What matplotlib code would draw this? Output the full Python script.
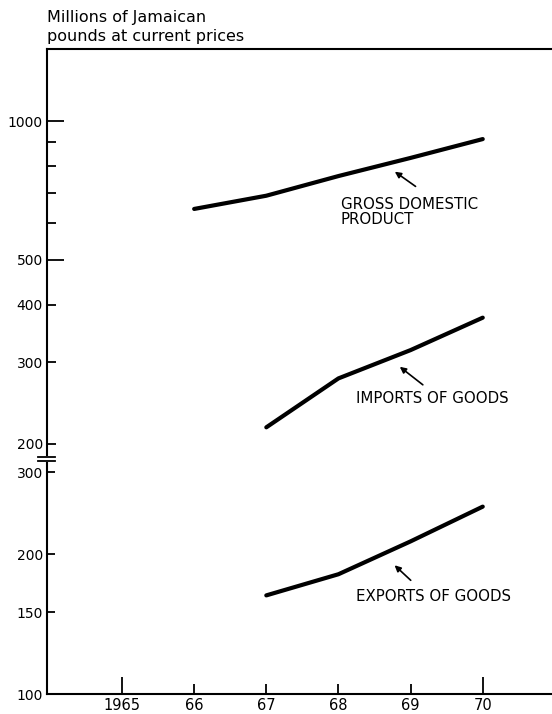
import matplotlib
matplotlib.use("Agg")
import matplotlib.pyplot as plt

# values (millions of Jamaican pounds)
years_gdp = [1966, 1967, 1968, 1969, 1970]
gdp = [645, 689, 760, 832, 914]
years_trade = [1967, 1968, 1969, 1970]
imports = [217, 277, 319, 375]
exports = [163, 181, 213, 253]

year_major = [1965, 1970]
year_major_labels = ["1965", "70"]
year_minor = [1966, 1967, 1968, 1969]
year_minor_labels = ["66", "67", "68", "69"]

plt.rcParams['font.family'] = ['DejaVu Sans']
fig = plt.figure(figsize=(5.52, 7.14), dpi=100)

ax_top = fig.add_axes([0.0851, 0.3627, 0.9149, 0.5686])
ax_bot = fig.add_axes([0.0851, 0.0280, 0.9149, 0.3235])

xlim = (1963.96, 1970.96)
for ax in (ax_top, ax_bot):
    ax.set_yscale('log')
    ax.set_xlim(*xlim)
    ax.spines['right'].set_visible(False)
    for s in ax.spines.values():
        s.set_linewidth(1.5)
    ax.tick_params(which='both', direction='in', width=1.3, labelsize=10, pad=3)

line_kw = dict(color='black', lw=3, solid_capstyle='round', solid_joinstyle='round')

# upper panel
ax_top.spines['bottom'].set_visible(False)
ax_top.set_ylim(189, 1432)
ax_top.set_yticks([500, 1000], labels=["500", "1000"])
ax_top.set_yticks([200, 300, 400, 600, 700, 800, 900], minor=True,
                  labels=["200", "300", "400", "", "", "", ""])
ax_top.tick_params(axis='y', which='major', length=12)
ax_top.tick_params(axis='y', which='minor', length=6.5)
ax_top.set_xticks([])
ax_top.set_xticks([], minor=True)
ax_top.plot(years_gdp, gdp, **line_kw)
ax_top.plot(years_trade, imports, **line_kw)

# lower panel
ax_bot.spines['top'].set_visible(False)
ax_bot.set_ylim(100, 314)
ax_bot.set_yticks([100, 150, 200, 300], labels=["100", "150", "200", "300"])
ax_bot.set_yticks([], minor=True)
ax_bot.tick_params(axis='y', which='major', length=5.5)
ax_bot.set_xticks(year_major, labels=year_major_labels)
ax_bot.set_xticks(year_minor, minor=True, labels=year_minor_labels)
ax_bot.tick_params(axis='x', which='major', length=12, labelsize=10.5)
ax_bot.tick_params(axis='x', which='minor', length=7, labelsize=10.5)
ax_bot.plot(years_trade, exports, **line_kw)

arrow = dict(arrowstyle='-|>', color='black', lw=1.2, mutation_scale=9)
ax_top.annotate("", xy=(1968.75, 783), xytext=(1969.10, 716), arrowprops=arrow)
ax_top.text(1968.03, 685, "GROSS DOMESTIC\nPRODUCT", fontsize=10.8, ha='left', va='top',
            linespacing=1.0)
ax_top.annotate("", xy=(1968.82, 296), xytext=(1969.20, 266), arrowprops=arrow)
ax_top.text(1968.25, 250, "IMPORTS OF GOODS", fontsize=10.8, ha='left', va='center')
ax_bot.annotate("", xy=(1968.75, 191), xytext=(1969.03, 174), arrowprops=arrow)
ax_bot.text(1968.24, 162, "EXPORTS OF GOODS", fontsize=10.8, ha='left', va='center')

# break marks on the y axis
for yy in (457, 461):
    fig.add_artist(plt.Line2D([38 / 552, 55 / 552], [1 - yy / 714, 1 - yy / 714],
                              color='black', lw=1.3))

fig.text(47 / 552, 1 - 10 / 714, "Millions of Jamaican\npounds at current prices",
         fontsize=11.5, ha='left', va='top', linespacing=1.3)

fig.savefig("out.png", dpi=100)
